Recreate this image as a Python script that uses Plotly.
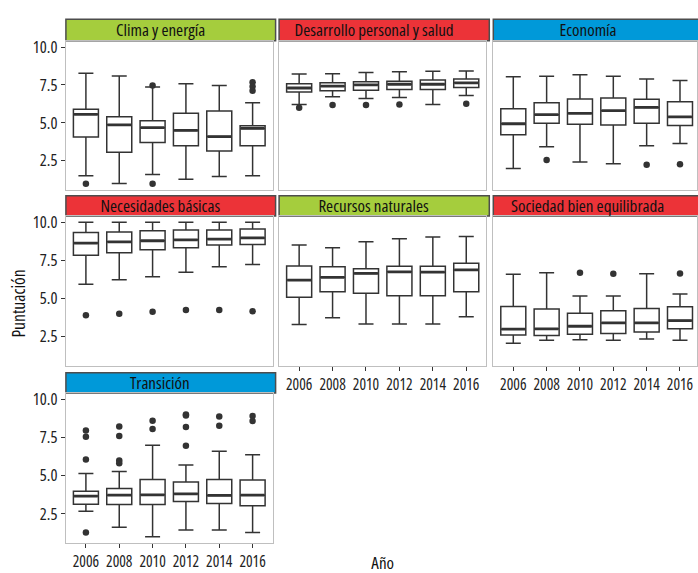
import plotly.graph_objects as go

years = ["2006", "2008", "2010", "2012", "2014", "2016"]

panel_titles = ["Clima y energía", "Desarrollo personal y salud", "Economía",
                "Necesidades básicas", "Recursos naturales", "Sociedad bien equilibrada",
                "Transición"]
strip_colors = ["#a5cd3d", "#ec3338", "#0099d9", "#ec3338", "#a5cd3d", "#ec3338", "#0099d9"]

# Clima y energía
clima_low = [1.51, 0.99, 1.58, 1.28, 1.45, 1.51]
clima_q1 = [4.07, 3.05, 3.70, 3.49, 3.14, 3.49]
clima_med = [5.56, 4.87, 4.68, 4.50, 4.09, 4.63]
clima_q3 = [5.89, 5.41, 5.13, 5.63, 5.78, 4.81]
clima_high = [8.27, 8.10, 7.36, 7.58, 7.47, 6.32]
clima_out_x = ["2006", "2010", "2010", "2016", "2016", "2016"]
clima_out_y = [0.97, 7.47, 0.97, 7.68, 7.40, 7.12]

# Desarrollo personal y salud
desarrollo_low = [6.21, 6.73, 6.60, 6.67, 6.21, 6.80]
desarrollo_q1 = [7.03, 7.12, 7.16, 7.21, 7.21, 7.34]
desarrollo_med = [7.30, 7.42, 7.51, 7.55, 7.55, 7.64]
desarrollo_q3 = [7.58, 7.64, 7.71, 7.75, 7.83, 7.90]
desarrollo_high = [8.22, 8.25, 8.33, 8.38, 8.40, 8.42]
desarrollo_out_x = ["2006", "2008", "2010", "2012", "2016"]
desarrollo_out_y = [5.99, 6.18, 6.17, 6.21, 6.26]

# Economía
economia_low = [1.99, 3.42, 2.42, 2.29, 3.49, 3.64]
economia_q1 = [4.22, 4.98, 4.91, 4.85, 4.98, 4.83]
economia_med = [4.94, 5.54, 5.63, 5.80, 6.02, 5.39]
economia_q3 = [5.93, 6.32, 6.58, 6.64, 6.56, 6.39]
economia_high = [8.05, 8.07, 8.18, 8.07, 7.90, 7.79]
economia_out_x = ["2008", "2014", "2016"]
economia_out_y = [2.55, 2.23, 2.27]

# Necesidades básicas
necesidades_low = [5.93, 6.23, 6.43, 6.73, 7.08, 7.23]
necesidades_q1 = [7.84, 8.01, 8.20, 8.33, 8.51, 8.55]
necesidades_med = [8.64, 8.72, 8.79, 8.85, 8.90, 8.98]
necesidades_q3 = [9.33, 9.37, 9.44, 9.50, 9.50, 9.57]
necesidades_high = [10.0, 10.0, 10.0, 10.0, 10.0, 10.0]
necesidades_out_x = ["2006", "2008", "2010", "2012", "2014", "2016"]
necesidades_out_y = [3.90, 4.00, 4.13, 4.24, 4.24, 4.16]

# Recursos naturales
recursos_low = [3.29, 3.74, 3.33, 3.33, 3.33, 3.81]
recursos_q1 = [5.09, 5.45, 5.35, 5.19, 5.19, 5.45]
recursos_med = [6.21, 6.39, 6.65, 6.75, 6.73, 6.88]
recursos_q3 = [7.14, 7.08, 6.95, 7.12, 7.12, 7.32]
recursos_high = [8.51, 8.33, 8.72, 8.92, 9.03, 9.07]
recursos_out_x = []
recursos_out_y = []

# Sociedad bien equilibrada
sociedad_low = [2.06, 2.27, 2.29, 2.27, 2.34, 2.27]
sociedad_q1 = [2.60, 2.58, 2.66, 2.71, 2.81, 3.01]
sociedad_med = [2.99, 3.01, 3.18, 3.40, 3.40, 3.55]
sociedad_q3 = [4.48, 4.31, 4.03, 4.20, 4.35, 4.46]
sociedad_high = [6.60, 6.69, 5.17, 5.17, 6.62, 5.30]
sociedad_out_x = ["2010", "2012", "2016"]
sociedad_out_y = [6.69, 6.62, 6.65]

# Transición
transicion_low = [2.67, 1.61, 0.99, 1.44, 1.44, 1.27]
transicion_q1 = [3.12, 3.10, 3.10, 3.31, 3.18, 3.03]
transicion_med = [3.66, 3.72, 3.74, 3.81, 3.70, 3.72]
transicion_q3 = [3.98, 4.15, 4.75, 4.58, 4.75, 4.71]
transicion_high = [5.14, 5.27, 6.99, 5.70, 6.60, 6.37]
transicion_out_x = ["2006", "2006", "2006", "2006", "2008", "2008", "2008", "2008",
                    "2010", "2010", "2012", "2012", "2012", "2012", "2014", "2014",
                    "2016", "2016"]
transicion_out_y = [7.96, 7.55, 6.06, 1.27, 8.22, 7.61, 6.00, 5.81,
                    8.60, 8.06, 9.02, 8.95, 8.19, 6.97, 8.88, 8.28,
                    8.92, 8.58]

stats = [
    (clima_low, clima_q1, clima_med, clima_q3, clima_high, clima_out_x, clima_out_y),
    (desarrollo_low, desarrollo_q1, desarrollo_med, desarrollo_q3, desarrollo_high, desarrollo_out_x, desarrollo_out_y),
    (economia_low, economia_q1, economia_med, economia_q3, economia_high, economia_out_x, economia_out_y),
    (necesidades_low, necesidades_q1, necesidades_med, necesidades_q3, necesidades_high, necesidades_out_x, necesidades_out_y),
    (recursos_low, recursos_q1, recursos_med, recursos_q3, recursos_high, recursos_out_x, recursos_out_y),
    (sociedad_low, sociedad_q1, sociedad_med, sociedad_q3, sociedad_high, sociedad_out_x, sociedad_out_y),
    (transicion_low, transicion_q1, transicion_med, transicion_q3, transicion_high, transicion_out_x, transicion_out_y),
]

W, H = 698, 573
FONT = "Open Sans, DejaVu Sans"
DARK = "#333333"

col_px = [(66, 273), (279.5, 487), (494, 701)]
row_px = [(35, 186), (212, 364), (391, 543)]
strip_px = [(13.3, 35), (191.7, 212.3), (370.7, 391)]
positions = [(0, 0), (0, 1), (0, 2), (1, 0), (1, 1), (1, 2), (2, 0)]
show_x = [False, False, False, False, True, True, True]
show_y = [True, False, False, True, False, False, True]

fig = go.Figure()
shapes = []
annotations = []
layout = {}
BOX_W = 0.75

for k, (title, color, st) in enumerate(zip(panel_titles, strip_colors, stats)):
    low, q1, med, q3, high, ox, oy = st
    r, c = positions[k]
    idx = "" if k == 0 else str(k + 1)
    xa, ya = "x" + idx, "y" + idx
    fig.add_trace(go.Box(
        x=years, q1=q1, median=med, q3=q3, lowerfence=low, upperfence=high,
        width=BOX_W, whiskerwidth=0.6, boxpoints=False,
        fillcolor="white", line=dict(color=DARK, width=1.5),
        xaxis=xa, yaxis=ya, showlegend=False, hoverinfo="skip"))
    if ox:
        fig.add_trace(go.Scatter(
            x=ox, y=oy, mode="markers",
            marker=dict(color=DARK, size=6.5),
            xaxis=xa, yaxis=ya, showlegend=False, hoverinfo="skip"))
    for i, m in enumerate(med):
        shapes.append(dict(type="line", xref=xa, yref=ya,
                           x0=i - BOX_W / 2 + 0.02, x1=i + BOX_W / 2 - 0.02, y0=m, y1=m,
                           line=dict(color=DARK, width=2.8), layer="above"))
    cl, cr = col_px[c]
    rt, rb = row_px[r]
    cr_clip = min(cr, W)
    per_unit = (cr - cl) / 6.2
    xrange = [-0.6, -0.6 + (cr_clip - cl) / per_unit]
    layout["xaxis" + idx] = dict(
        domain=[cl / W, cr_clip / W], anchor=ya, type="category",
        categoryorder="array", categoryarray=years, range=xrange,
        showgrid=False, zeroline=False, showline=True, mirror=True,
        linecolor="#bfbfbf", linewidth=1.2, tickangle=0,
        ticks="outside" if show_x[k] else "", ticklen=4, tickcolor=DARK, tickwidth=1.2,
        showticklabels=show_x[k],
        tickfont=dict(family=FONT, size=15.5, color="#222222"))
    layout["yaxis" + idx] = dict(
        domain=[1 - rb / H, 1 - rt / H], anchor=xa, range=[0.56, 10.43],
        tickvals=[2.5, 5.0, 7.5, 10.0], ticktext=["2.5", "5.0", "7.5", "10.0"],
        showgrid=False, zeroline=False, showline=True, mirror=True,
        linecolor="#bfbfbf", linewidth=1.2,
        ticks="outside" if show_y[k] else "", ticklen=4, tickcolor=DARK, tickwidth=1.2,
        showticklabels=show_y[k],
        tickfont=dict(family=FONT, size=16.5, color="#222222"))
    st_top, st_bot = strip_px[r]
    shapes.append(dict(type="rect", xref="paper", yref="paper",
                       x0=cl / W, x1=min(cr + 3, W + 3) / W,
                       y0=1 - st_bot / H, y1=1 - st_top / H,
                       fillcolor=color, line=dict(color="#4d4d4d", width=1.5), layer="below"))
    annotations.append(dict(text=title, xref="paper", yref="paper",
                            x=((cl + cr) / 2 - 9) / W, y=1 - (st_top + st_bot) / 2 / H,
                            xanchor="center", yanchor="middle", showarrow=False,
                            font=dict(family=FONT, size=17, color="#111111")))

annotations.append(dict(text="Puntuación", xref="paper", yref="paper",
                        x=18 / W, y=1 - 300 / H, textangle=-90, showarrow=False,
                        xanchor="center", yanchor="middle",
                        font=dict(family=FONT, size=17.5, color="#111111")))
annotations.append(dict(text="Año", xref="paper", yref="paper",
                        x=383 / W, y=1 - 562 / H, showarrow=False,
                        xanchor="center", yanchor="middle",
                        font=dict(family=FONT, size=17, color="#111111")))

fig.update_layout(
    width=W, height=H, margin=dict(l=0, r=0, t=0, b=0),
    paper_bgcolor="white", plot_bgcolor="white",
    shapes=shapes, annotations=annotations, showlegend=False,
    **layout)

page_css = (
    "var s=document.createElement('style');"
    "s.textContent='html,body{margin:0;padding:0;overflow:hidden;}"
    ".js-plotly-plot svg text{font-stretch:condensed !important;}';"
    "document.head.appendChild(s);"
)
fig.write_html("out.html", post_script=page_css, config={"displayModeBar": False})
